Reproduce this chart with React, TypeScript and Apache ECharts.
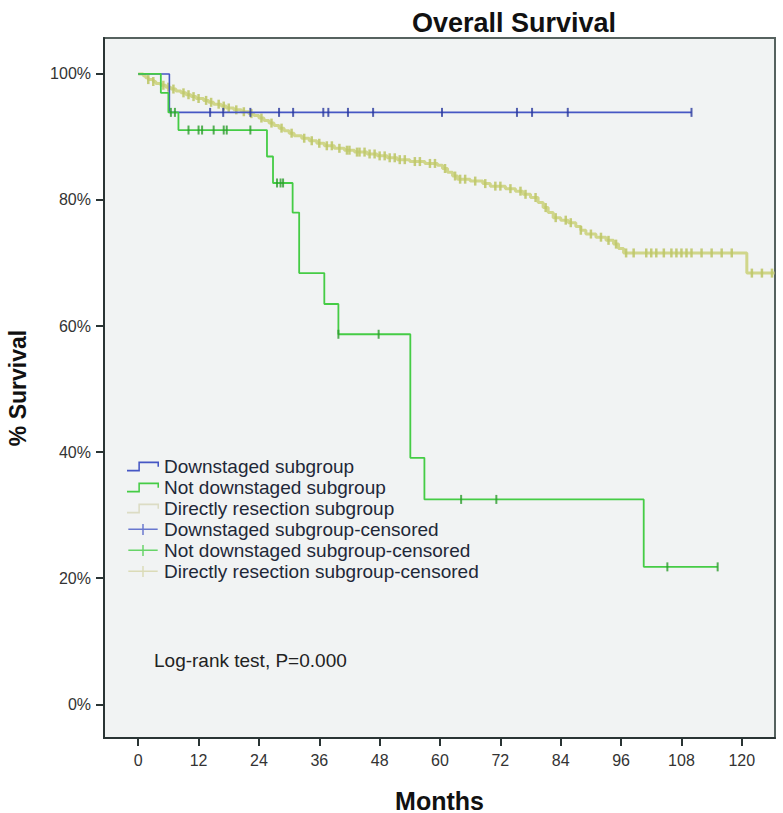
import React, { useEffect, useRef } from "react";
import * as echarts from "echarts";

// ---- Data (months, % survival) ----
const xTicks = [0, 12, 24, 36, 48, 60, 72, 84, 96, 108, 120];
const yTicks = [0, 20, 40, 60, 80, 100];

const seriesNames = [
  "Downstaged subgroup",
  "Not downstaged subgroup",
  "Directly resection subgroup",
  "Downstaged subgroup-censored",
  "Not downstaged subgroup-censored",
  "Directly resection subgroup-censored",
];

// Downstaged subgroup
const downTimes = [0, 6.2, 110];
const downSurv = [100, 93.9, 93.9];
const downCensored = [14.3, 16.9, 22.3, 28, 30.8, 36.8, 37.8, 41.7, 46.7, 60.4, 75.3, 78.3, 85.4, 110];

// Not downstaged subgroup
const notTimes = [0, 4.5, 6, 8, 25.6, 26.8, 30.7, 32, 37, 39.8, 54.1, 56.9, 100.5, 115.2];
const notSurv = [100, 97, 93.9, 91.1, 86.9, 82.7, 78, 68.4, 63.5, 58.7, 39.1, 32.5, 21.8, 21.8];
const notCensored = [6.5, 7.3, 10, 12, 12.7, 15, 17, 17.6, 22.3, 27.6, 28.3, 28.8, 39.8, 47.8, 64.2, 71.2, 105.2, 115.2];

// Directly resection subgroup
const dirTimes = [
  0, 1, 1.5, 2, 3, 3.5, 4.5, 5.5, 6.5, 7.5, 8.5, 9.5, 10.5, 11.5, 13, 14, 15, 16.5, 17.5, 19,
  20.5, 22, 23, 24, 25, 26, 27, 28, 29, 30, 31, 32.5, 34, 35.5, 37, 39, 41, 43, 45.5, 47.5,
  49.5, 51.5, 54, 57, 59.5, 60.5, 61.5, 62.5, 63.5, 66, 68.5, 70, 73, 75, 76.5, 78, 79.5, 80.5,
  81.5, 82.5, 84, 85.5, 87, 88, 89, 91, 93, 94.5, 95.5, 96.5, 121, 126.5,
];
const dirSurv = [
  100, 99.7, 99.4, 99.1, 98.8, 98.5, 98.2, 97.9, 97.6, 97.3, 97.0, 96.7, 96.4, 96.1, 95.8, 95.5,
  95.2, 94.9, 94.6, 94.3, 94.0, 93.7, 93.4, 93.0, 92.6, 92.2, 91.8, 91.4, 91.0, 90.6, 90.2, 89.8,
  89.4, 89.0, 88.6, 88.2, 87.9, 87.6, 87.3, 87.0, 86.7, 86.4, 86.1, 85.8, 85.5, 85.0, 84.4, 83.8,
  83.3, 83.0, 82.6, 82.2, 81.8, 81.4, 80.9, 80.4, 79.6, 78.8, 78.0, 77.2, 76.8, 76.4, 75.8, 75.2,
  74.6, 74.1, 73.6, 73.0, 72.3, 71.6, 68.4, 68.4,
];
const dirCensored = [
  2, 3, 5, 6, 7, 9, 10, 11, 12, 13.5, 14.5, 16, 17, 18, 19.5, 21, 22.5, 24.5, 26.5, 28.5, 30.5,
  33, 34.5, 36, 37.5, 38.5, 40, 41.5, 42, 43.5, 44, 45, 46, 47, 48, 49, 50, 51, 52, 53, 55, 56,
  58, 59, 61, 63, 64, 65, 67, 69, 71, 72, 74, 76, 77, 79, 81, 83, 85, 86, 88, 90, 92, 93.5, 95,
  97, 98.5, 101, 102, 103, 104.5, 106, 107, 108, 109, 110, 112, 114, 116, 118, 122, 124, 126,
];

const colors = {
  down: "#4657c4",
  downMark: "#2b3a9e",
  not: "#45cc45",
  notMark: "#2c9c2c",
  dir: "#d0d68a",
  dirMark: "#bfc86a",
};

function pairs(times: number[], surv: number[]) {
  return times.map((t, i) => [t, surv[i]]);
}
function stepAt(times: number[], surv: number[], t: number) {
  let v = surv[0];
  for (let i = 0; i < times.length; i++) {
    if (times[i] <= t) v = surv[i];
  }
  return v;
}
function censoredPoints(c: number[], times: number[], surv: number[]) {
  return c.map((t) => [t, stepAt(times, surv, t)]);
}

const stepIcon =
  "path://M0,8 L11,8 L11,0 L31,0 L31,5 L29.5,5 L29.5,1.5 L12.5,1.5 L12.5,9.5 L0,9.5 Z";
const crossIcon = "path://M0,5 L32,5 L32,6.6 L0,6.6 Z M15.2,0 L16.8,0 L16.8,12 L15.2,12 Z";

export default function App() {
  const ref = useRef<HTMLDivElement>(null);
  useEffect(() => {
    if (!ref.current) return;
    const chart = echarts.init(ref.current, null, { renderer: "svg" });
    const font = "Liberation Sans, Arial, sans-serif";
    const option: any = {
      animation: false,
      backgroundColor: "#ffffff",
      title: {
        text: "Overall Survival",
        left: 509,
        top: 4,
        textAlign: "center",
        textStyle: { fontFamily: font, fontSize: 27, fontWeight: "bold", color: "#111" },
      },
      grid: {
        left: 104,
        right: 8,
        top: 38,
        bottom: 75,
        show: true,
        backgroundColor: "#f1f3f3",
        borderColor: "#56625f",
        borderWidth: 2,
        containLabel: false,
        outerBoundsMode: "none",
      },
      legend: {
        orient: "vertical",
        left: 122,
        top: 452,
        itemWidth: 32,
        itemHeight: 11,
        itemGap: 2,
        selectedMode: false,
        textStyle: { fontFamily: font, fontSize: 19, color: "#1e2838", lineHeight: 19 },
        data: [
          { name: seriesNames[0], icon: stepIcon, itemStyle: { color: colors.down, borderWidth: 0 } },
          { name: seriesNames[1], icon: stepIcon, itemStyle: { color: colors.not, borderWidth: 0 } },
          { name: seriesNames[2], icon: stepIcon, itemStyle: { color: "#dcdcc4", borderWidth: 0 } },
          { name: seriesNames[3], icon: crossIcon, itemStyle: { color: colors.down, borderWidth: 0 } },
          { name: seriesNames[4], icon: crossIcon, itemStyle: { color: colors.not, borderWidth: 0 } },
          { name: seriesNames[5], icon: crossIcon, itemStyle: { color: "#d8d8b0", borderWidth: 0 } },
        ],
      },
      xAxis: {
        type: "value",
        min: -6.8,
        max: 126.6,
        name: "Months",
        nameLocation: "middle",
        nameGap: 50,
        nameTextStyle: { fontFamily: font, fontSize: 25, fontWeight: "bold", color: "#111" },
        axisLine: { show: true, onZero: false, lineStyle: { color: "#2a3434", width: 2 } },
        axisTick: {
          show: true,
          length: 8,
          customValues: xTicks,
          lineStyle: { color: "#2a3434", width: 2 },
        },
        axisLabel: {
          customValues: xTicks,
          margin: 14,
          fontFamily: font,
          fontSize: 16,
          color: "#333",
        },
        splitLine: { show: false },
      },
      yAxis: {
        type: "value",
        min: -5.35,
        max: 105.7,
        name: "% Survival",
        nameLocation: "middle",
        nameGap: 75,
        nameTextStyle: { fontFamily: font, fontSize: 23, fontWeight: "bold", color: "#111" },
        axisLine: { show: true, onZero: false, lineStyle: { color: "#2a3434", width: 2 } },
        axisTick: {
          show: true,
          length: 8,
          customValues: yTicks,
          lineStyle: { color: "#2a3434", width: 2 },
        },
        axisLabel: {
          customValues: yTicks,
          margin: 13,
          fontFamily: font,
          fontSize: 16,
          color: "#333",
          formatter: "{value}%",
        },
        splitLine: { show: false },
      },
      graphic: [
        {
          type: "text",
          x: 154,
          y: 660,
          style: {
            text: "Log-rank test, P=0.000",
            fontFamily: font,
            fontSize: 19,
            fill: "#222",
            textVerticalAlign: "middle",
          },
        },
      ],
      series: [
        {
          name: seriesNames[2],
          type: "line",
          step: "end",
          showSymbol: false,
          data: pairs(dirTimes, dirSurv),
          lineStyle: { color: colors.dir, width: 3 },
          itemStyle: { color: colors.dir },
          z: 2,
        },
        {
          name: seriesNames[5],
          type: "scatter",
          symbol: "rect",
          symbolSize: [2.5, 9],
          data: censoredPoints(dirCensored, dirTimes, dirSurv),
          itemStyle: { color: colors.dirMark, opacity: 0.9 },
          z: 3,
        },
        {
          name: seriesNames[0],
          type: "line",
          step: "end",
          showSymbol: false,
          data: pairs(downTimes, downSurv),
          lineStyle: { color: colors.down, width: 1.6 },
          itemStyle: { color: colors.down },
          z: 4,
        },
        {
          name: seriesNames[3],
          type: "scatter",
          symbol: "rect",
          symbolSize: [2, 9],
          data: censoredPoints(downCensored, downTimes, downSurv),
          itemStyle: { color: colors.downMark },
          z: 5,
        },
        {
          name: seriesNames[1],
          type: "line",
          step: "end",
          showSymbol: false,
          data: pairs(notTimes, notSurv),
          lineStyle: { color: colors.not, width: 1.8 },
          itemStyle: { color: colors.not },
          z: 4,
        },
        {
          name: seriesNames[4],
          type: "scatter",
          symbol: "rect",
          symbolSize: [2, 9],
          data: censoredPoints(notCensored, notTimes, notSurv),
          itemStyle: { color: colors.notMark },
          z: 5,
        },
      ],
    };
    chart.setOption(option);
    return () => chart.dispose();
  }, []);
  return (
    <div
      ref={ref}
      style={{ position: "absolute", left: 0, top: 0, width: 783, height: 813 }}
    />
  );
}
